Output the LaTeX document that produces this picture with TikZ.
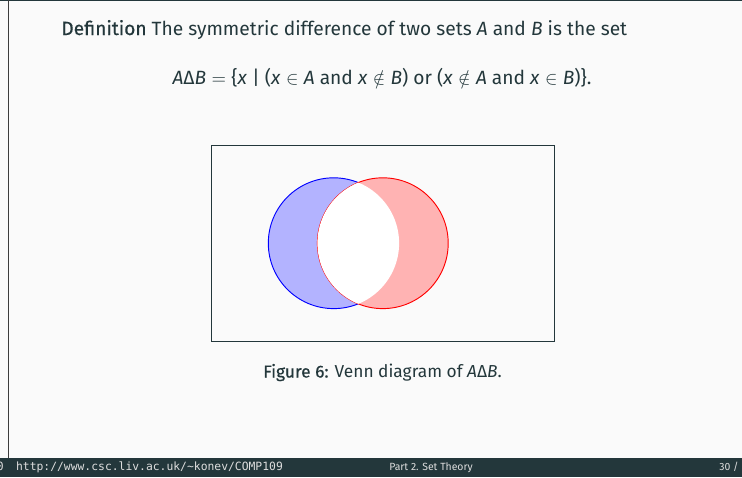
\documentclass[tikz,border=0pt]{standalone}
\usepackage{fontspec}
\setmainfont{Fira Sans}
\newfontface\headface{Fira Sans}[FakeBold=0.5]
\newfontfamily\footmono{DejaVu Sans Mono}
\usetikzlibrary{positioning}
\definecolor{SlideBg}{RGB}{250,250,250}
\definecolor{DarkTeal}{RGB}{35,55,59}
\definecolor{FootText}{RGB}{222,222,222}
\definecolor{FrameGray}{RGB}{60,60,60}
\definecolor{SoftBlue}{RGB}{179,179,255}
\definecolor{SoftRed}{RGB}{255,179,179}
\newcommand\relsym[1]{\hspace{0.28em}$#1$\hspace{0.28em}}
\tikzset{
  bodytext/.style={inner sep=0pt,text=DarkTeal,font=\fontsize{10.3}{12}\selectfont},
  captext/.style={inner sep=0pt,text=DarkTeal,font=\fontsize{9.3}{11}\selectfont},
  foottext/.style={inner sep=0pt,text=FootText,font=\fontsize{5.6}{7}\selectfont},
  footcode/.style={inner sep=0pt,text=FootText,font=\footmono\fontsize{6.1}{7}\selectfont},
  setA/.style={draw=blue,fill=SoftBlue,line width=0.5pt},
  setB/.style={draw=red,fill=SoftRed,line width=0.5pt}
}

\begin{document}
\begin{tikzpicture}[x=0.18868mm,y=-0.18868mm]
  \fill[SlideBg] (0,0) rectangle (742,477);
  \useasboundingbox (0,0) rectangle (742,477);
  \fill[DarkTeal] (0,0) rectangle (742,1.2);
  \fill[DarkTeal] (0,457.5) rectangle (742,477);
  \draw[FrameGray,line width=0.8pt] (8.5,0) -- (8.5,457.5);
  \node[bodytext,anchor=base west] (defn) at (61,35)
    {{\headface Definition} The symmetric difference of two sets \textit{A} and \textit{B} is the set};
  \node[bodytext,anchor=base] (symdiff) at (382,84.5)
    {\textit{A}Δ\textit{B}\relsym{=}\{\textit{x} | (\textit{x}\relsym{\in}\textit{A} and \textit{x}\relsym{\notin}\textit{B}) or (\textit{x}\relsym{\notin}\textit{A} and \textit{x}\relsym{\in}\textit{B})\}.};
  \draw[DarkTeal,line width=0.5pt] (211.5,145.5) rectangle (554,341);
  \filldraw[setA] (333.7,243.2) circle[radius=65.4];
  \filldraw[setB] (382.8,243.2) circle[radius=65.4];
  \begin{scope}
    \clip (333.7,243.2) circle[radius=65.4];
    \fill[white] (382.8,243.2) circle[radius=65.4];
  \end{scope}
  \node[captext,anchor=base] (caption) at (382.5,377.5)
    {{\headface Figure 6:} Venn diagram of \textit{A}Δ\textit{B}.};
  \node[footcode,anchor=base east] (pageend) at (4,470) {0};
  \node[footcode,anchor=base west] (url) at (15.7,470) {http://www.csc.liv.ac.uk/\textasciitilde konev/COMP109};
  \node[foottext,anchor=base] (part) at (431,470) {Part 2. Set Theory};
  \node[foottext,anchor=base west] (pageno) at (719,470) {30 /};
\end{tikzpicture}
\end{document}
